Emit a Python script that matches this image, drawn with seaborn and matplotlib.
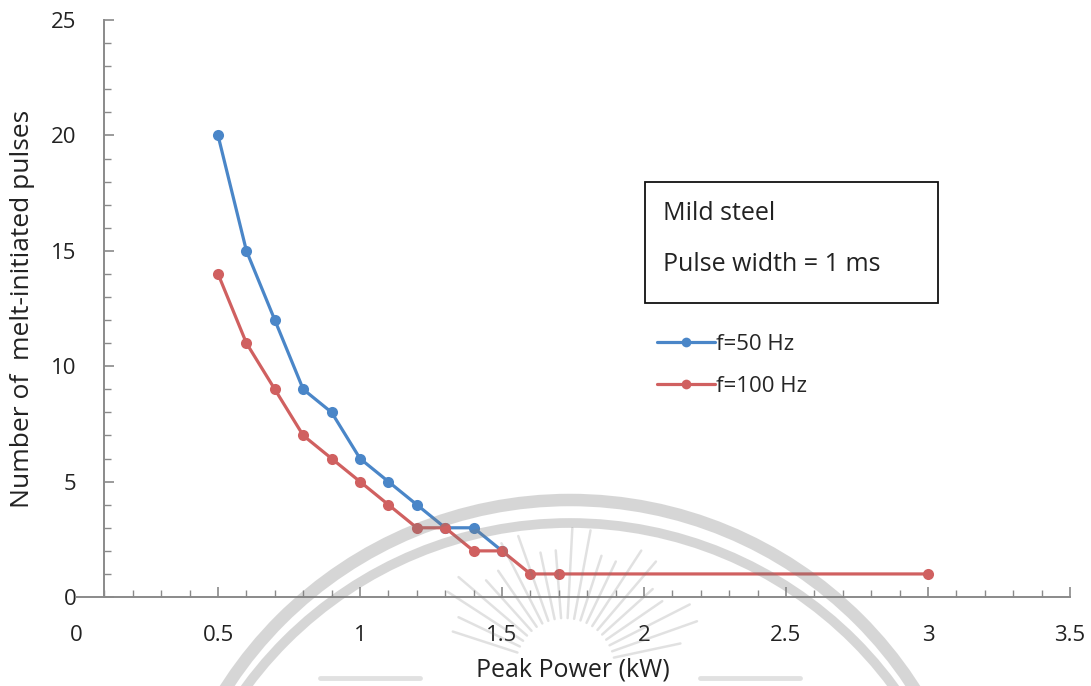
import numpy as np
import pandas as pd
import matplotlib
matplotlib.use("Agg")
import matplotlib.pyplot as plt
import seaborn as sns
from matplotlib.patches import Rectangle, Arc
from matplotlib.lines import Line2D

# Peak power (kW) and number of melt-initiated pulses for each repetition rate
power_50hz = [0.5, 0.6, 0.7, 0.8, 0.9, 1.0, 1.1, 1.2, 1.3, 1.4, 1.5]
pulses_50hz = [20, 15, 12, 9, 8, 6, 5, 4, 3, 3, 2]

power_100hz = [0.5, 0.6, 0.7, 0.8, 0.9, 1.0, 1.1, 1.2, 1.3, 1.4, 1.5, 1.6, 1.7, 3.0]
pulses_100hz = [14, 11, 9, 7, 6, 5, 4, 3, 3, 2, 2, 1, 1, 1]

series_labels = ["f=50 Hz", "f=100 Hz"]
series_colors = ["#4a86c8", "#d06060"]

x_tick_values = [0, 0.5, 1, 1.5, 2, 2.5, 3, 3.5]
x_tick_labels = ["0", "0.5", "1", "1.5", "2", "2.5", "3", "3.5"]
y_tick_values = [0, 5, 10, 15, 20, 25]

df = pd.concat([
    pd.DataFrame({"power": power_50hz, "pulses": pulses_50hz, "series": series_labels[0]}),
    pd.DataFrame({"power": power_100hz, "pulses": pulses_100hz, "series": series_labels[1]}),
], ignore_index=True)

sns.set_theme(style="white")
plt.rcParams["font.family"] = ["Open Sans", "DejaVu Sans"]

W, H = 1091, 686
fig = plt.figure(figsize=(W / 100, H / 100), dpi=100)
ax = fig.add_axes([0.0697, 0.1297, 0.911, 0.8411])

sns.lineplot(
    data=df, x="power", y="pulses", hue="series",
    palette=dict(zip(series_labels, series_colors)),
    marker="o", markersize=8, markeredgewidth=0, linewidth=2.3,
    sort=False, ax=ax, legend=False,
)

ax.set_xlim(0, 3.5)
ax.set_ylim(0, 25)

# Axis styling: left spine sits at x = 0.1, ticks point inward
spine_color = "#8a8a8a"
for side in ["top", "right"]:
    ax.spines[side].set_visible(False)
ax.spines["left"].set_position(("data", 0.1))
for side in ["left", "bottom"]:
    ax.spines[side].set_color(spine_color)
    ax.spines[side].set_linewidth(1.4)

ax.set_xticks(x_tick_values)
ax.set_xticklabels(x_tick_labels)
ax.set_xticks(np.round(np.arange(0.1, 3.51, 0.1), 2), minor=True)
ax.set_yticks(y_tick_values)
ax.set_yticks(np.arange(0, 26, 1), minor=True)

ax.tick_params(axis="both", which="both", bottom=True, left=True, top=False, right=False)
ax.tick_params(axis="both", which="major", direction="in", length=7, width=1.2,
               color=spine_color, labelsize=16, labelcolor="#222222", pad=20)
ax.tick_params(axis="both", which="minor", direction="in", length=5, width=1.0,
               color=spine_color)
ax.xaxis.get_major_ticks()[0].tick1line.set_visible(False)

ax.set_xlabel("Peak Power (kW)", fontsize=18, color="#222222")
ax.set_ylabel("Number of  melt-initiated pulses", fontsize=19, color="#222222")
ax.xaxis.set_label_coords(0.50, -0.105)
ax.yaxis.set_label_coords(-0.041, 0.50)

# Legend entries without a frame
handles = [
    Line2D([], [], color=c, marker="o", markersize=7, markeredgewidth=0, linewidth=2.3)
    for c in series_colors
]
fig.legend(handles, series_labels, loc="center left", bbox_to_anchor=(0.602, 0.467),
           frameon=False, fontsize=16, handlelength=2.6, handletextpad=0.08,
           labelspacing=0.95, borderaxespad=0, borderpad=0)

# Annotation box with material and pulse width
fig.patches.append(Rectangle((0.591, 0.5583), 0.269, 0.1764, transform=fig.transFigure,
                             fill=False, edgecolor="#111111", linewidth=1.3))
fig.text(663 / W, 1 - 214 / H, "Mild steel", fontsize=18, color="#222222", va="center")
fig.text(663 / W, 1 - 265 / H, "Pulse width = 1 ms", fontsize=18, color="#222222", va="center")

# Faint emblem in the lower part of the page: two rings and a sunburst
emblem = dict(transform=fig.transFigure, color="#7a7a7a", alpha=0.3, zorder=5)
for cx, cy, r, lw in [(570, 909, 409, 9), (570, 925, 402, 7)]:
    fig.patches.append(Arc((cx / W, 1 - cy / H), 2 * r / W, 2 * r / H,
                           theta1=0, theta2=180, linewidth=lw, **emblem))
sun_x, sun_y = 565, 668
for ang in np.arange(12, 169, 7.5):
    a = np.deg2rad(ang)
    r0, r1 = 50, 140 if int(ang) % 2 else 118
    xs = [sun_x + r0 * np.cos(a), sun_x + r1 * np.cos(a)]
    ys = [sun_y - r0 * np.sin(a), sun_y - r1 * np.sin(a)]
    fig.lines.append(Line2D([x / W for x in xs], [1 - y / H for y in ys],
                            linewidth=1.8, solid_capstyle="round",
                            **{**emblem, "alpha": 0.22}))
for x0, x1 in [(320, 420), (700, 800)]:
    fig.lines.append(Line2D([x0 / W, x1 / W], [1 - 678 / H] * 2, linewidth=3.5,
                            **{**emblem, "alpha": 0.22}))

fig.savefig("out.png", dpi=100)
